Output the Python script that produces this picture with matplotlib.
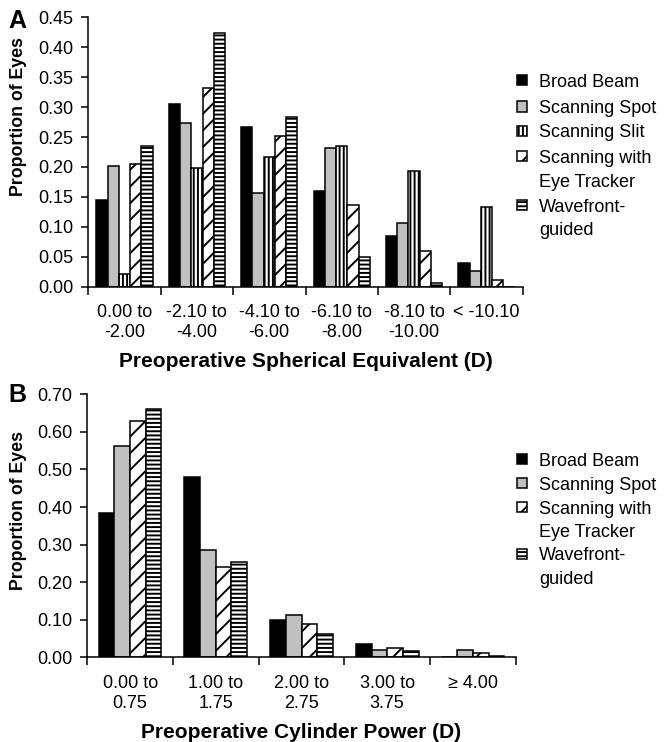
import matplotlib
matplotlib.use("Agg")
import matplotlib.pyplot as plt
from matplotlib.patches import Rectangle
import numpy as np

plt.rcParams['font.family'] = ['Liberation Sans', 'DejaVu Sans']
plt.rcParams['hatch.linewidth'] = 1.4

# ---------- data ----------
cats_a = ["0.00 to\n-2.00", "-2.10 to\n-4.00", "-4.10 to\n-6.00",
          "-6.10 to\n-8.00", "-8.10 to\n-10.00", "< -10.10"]
broad_a = [0.145, 0.305, 0.266, 0.160, 0.085, 0.040]
spot_a = [0.202, 0.274, 0.157, 0.232, 0.107, 0.027]
slit_a = [0.021, 0.199, 0.217, 0.235, 0.193, 0.133]
tracker_a = [0.205, 0.332, 0.252, 0.137, 0.060, 0.011]
wave_a = [0.235, 0.423, 0.284, 0.050, 0.007, 0.0]

cats_b = ["0.00 to\n0.75", "1.00 to\n1.75", "2.00 to\n2.75",
          "3.00 to\n3.75", "\u2265 4.00"]
broad_b = [0.385, 0.481, 0.098, 0.035, 0.0]
spot_b = [0.562, 0.286, 0.112, 0.019, 0.020]
tracker_b = [0.630, 0.240, 0.089, 0.025, 0.012]
wave_b = [0.661, 0.254, 0.061, 0.017, 0.004]

labels_all = {
    'broad': "Broad Beam",
    'spot': "Scanning Spot",
    'slit': "Scanning Slit",
    'tracker': "Scanning with\nEye Tracker",
    'wave': "Wavefront-\nguided",
}
styles = {
    'broad': dict(facecolor='black', hatch=None),
    'spot': dict(facecolor='#c0c0c0', hatch=None),
    'slit': dict(facecolor='white', hatch='||||'),
    'tracker': dict(facecolor='white', hatch='//'),
    'wave': dict(facecolor='white', hatch='----'),
}

W, H = 664, 742
fig = plt.figure(figsize=(W / 100, H / 100), dpi=100)


def fx(px):
    return px / W


def fy(py):
    return 1 - py / H


def px_axes(left, right, top, bottom):
    return fig.add_axes([fx(left), fy(bottom), (right - left) / W, (bottom - top) / H])


def draw(ax, cats, series, width, ymax, yticks, ytickfmt, xlabel):
    n = len(series)
    x = np.arange(len(cats))
    for i, (key, vals) in enumerate(series):
        offs = (i - (n - 1) / 2) * width
        st = styles[key]
        ax.bar(x + offs, vals, width=width, facecolor=st['facecolor'],
               edgecolor='black', linewidth=1.1, hatch=st['hatch'],
               label=labels_all[key], zorder=2)
    ax.set_xlim(-0.5, len(cats) - 0.5)
    ax.set_ylim(0, ymax)
    ax.set_yticks(yticks)
    ax.set_yticklabels([ytickfmt.format(v) for v in yticks], fontsize=13)
    ax.set_xticks(np.arange(len(cats) + 1) - 0.5)
    ax.set_xticklabels([])
    ax.set_xticks(x, minor=True)
    ax.set_xticklabels(cats, minor=True, fontsize=13, linespacing=1.25)
    ax.tick_params(axis='x', which='minor', length=0, pad=12.5)
    ax.tick_params(axis='x', which='major', length=6, width=1.1, direction='out')
    ax.tick_params(axis='y', length=5, width=1.1, direction='out', pad=5.5)
    for s in ['top', 'right']:
        ax.spines[s].set_visible(False)
    for s in ['left', 'bottom']:
        ax.spines[s].set_linewidth(1.1)
    ax.set_xlabel(xlabel, fontsize=15, fontweight='bold', labelpad=8)


def legend(keys, line_centers):
    # line_centers: y pixel centres for each text line of each entry
    for key, centers in zip(keys, line_centers):
        st = styles[key]
        c0 = centers[0]
        r = Rectangle((fx(517), fy(c0 + 5)), 10 / W, 10 / H, transform=fig.transFigure,
                      facecolor=st['facecolor'], edgecolor='black', linewidth=1.1,
                      hatch=st['hatch'])
        fig.add_artist(r)
        for line, c in zip(labels_all[key].split("\n"), centers):
            fig.text(fx(539), fy(c + 6.6), line, fontsize=13, ha='left', va='baseline')


# ---------- panel A ----------
axA = px_axes(88.3, 522.7, 17.3, 286.7)
draw(axA, cats_a,
     [('broad', broad_a), ('spot', spot_a), ('slit', slit_a),
      ('tracker', tracker_a), ('wave', wave_a)],
     0.155, 0.45, np.round(np.arange(0, 0.451, 0.05), 2), "{:.2f}",
     "Preoperative Spherical Equivalent (D)")
legend(['broad', 'spot', 'slit', 'tracker', 'wave'],
       [[80], [106.5], [130.7], [156, 180], [205, 228.5]])
fig.text(fx(19), fy(117), "Proportion of Eyes", rotation=90, fontsize=12.8,
         fontweight='bold', ha='center', va='center')
fig.text(fx(17), fy(21), "A", fontsize=18, fontweight='bold', ha='center', va='center')

# ---------- panel B ----------
axB = px_axes(87.3, 515.7, 394.3, 657.3)
draw(axB, cats_b,
     [('broad', broad_b), ('spot', spot_b), ('tracker', tracker_b), ('wave', wave_b)],
     0.183, 0.70, np.round(np.arange(0, 0.701, 0.10), 2), "{:.2f}",
     "Preoperative Cylinder Power (D)")
legend(['broad', 'spot', 'tracker', 'wave'],
       [[459.3], [483], [507, 530.5], [553.5, 577]])
fig.text(fx(19), fy(510), "Proportion of Eyes", rotation=90, fontsize=12.8,
         fontweight='bold', ha='center', va='center')
fig.text(fx(17), fy(395), "B", fontsize=18, fontweight='bold', ha='center', va='center')

fig.savefig("out.png", dpi=100)
